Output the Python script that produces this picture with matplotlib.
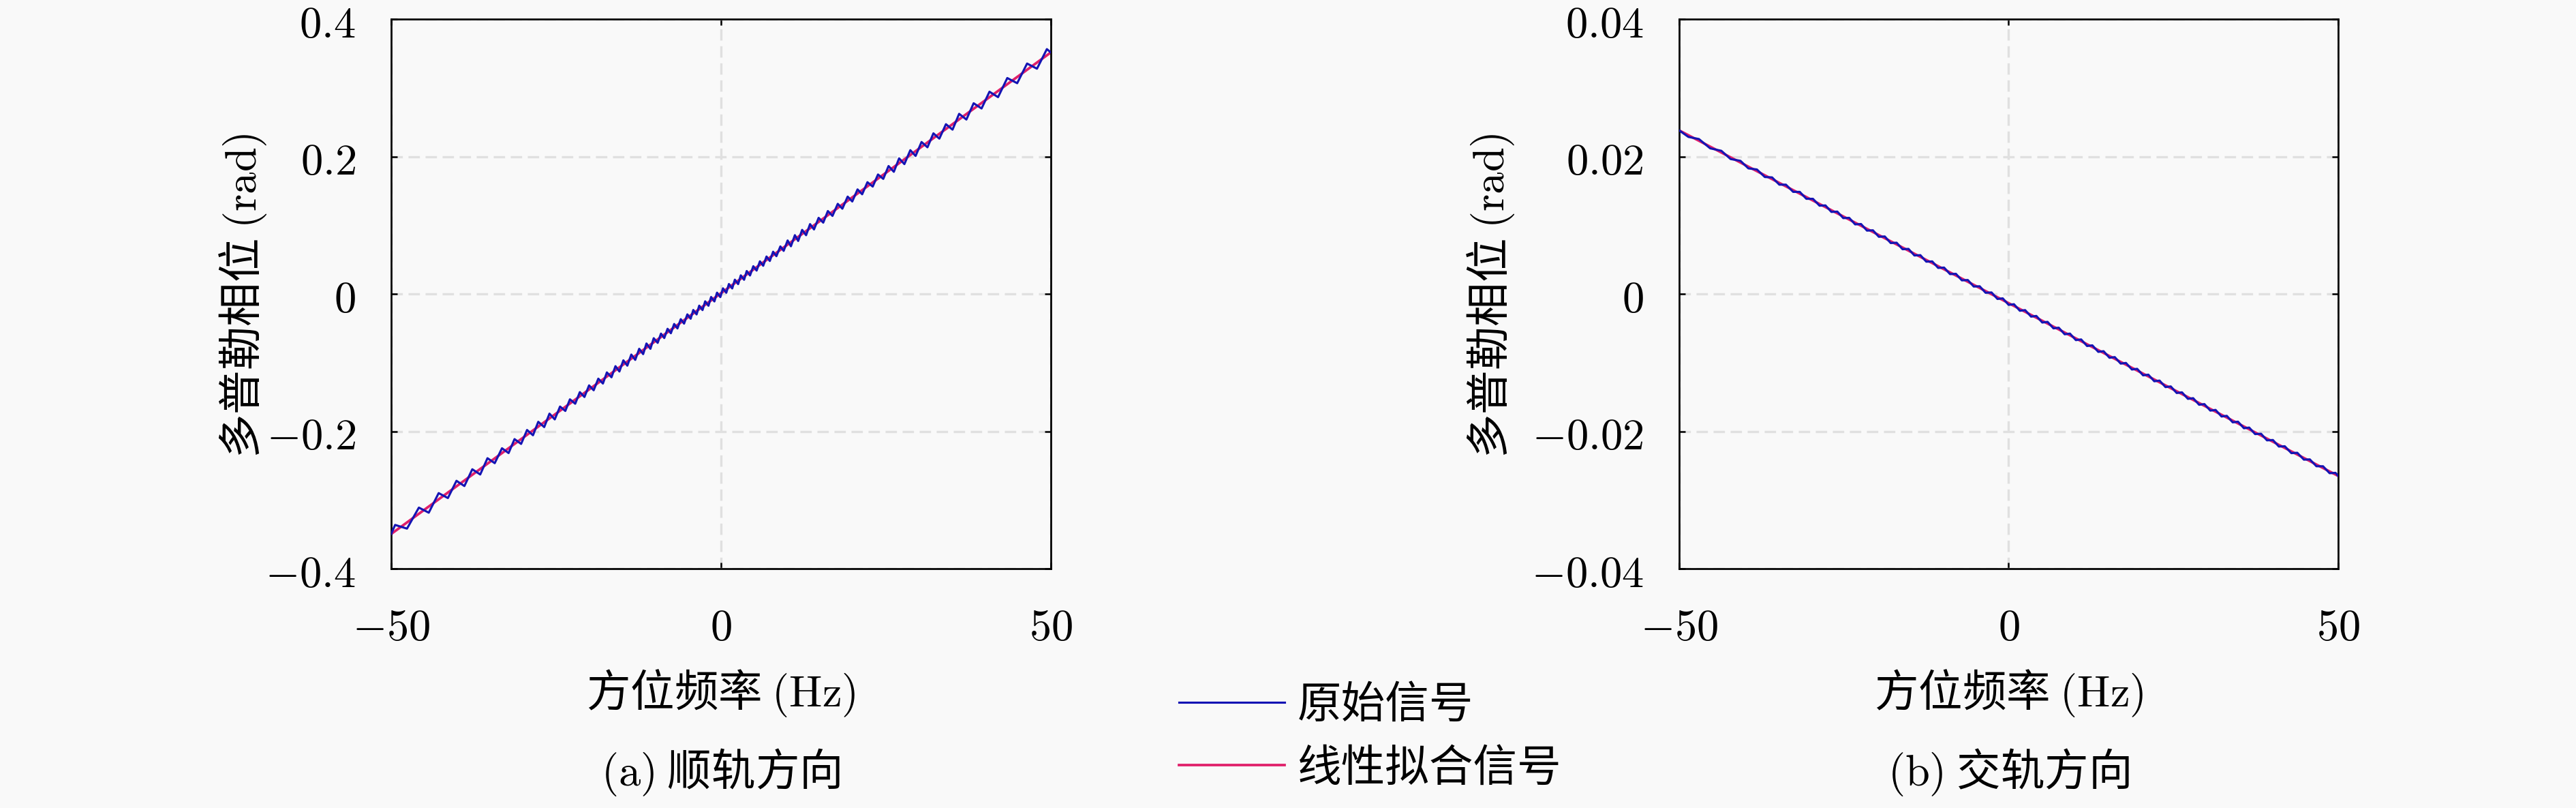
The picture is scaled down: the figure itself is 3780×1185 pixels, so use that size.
import matplotlib
matplotlib.use("Agg")
import matplotlib.pyplot as plt
from matplotlib.lines import Line2D

plt.rcParams['font.family'] = ['Noto Sans CJK SC', 'DejaVu Sans']
plt.rcParams['mathtext.fontset'] = 'cm'

# ---- data ----
# (a) along-track: original signal (peaks / troughs of the ripple)
freq_a = [-50.0, -49.4, -47.6, -45.8, -44.3, -42.8, -41.4, -40.1, -38.9, -37.7,
          -36.5, -35.4, -34.3, -33.2, -32.2, -31.3, -30.3, -29.4, -28.5, -27.7,
          -26.8, -26.0, -25.2, -24.4, -23.6, -22.9, -22.1, -21.4, -20.7, -20.0,
          -19.3, -18.6, -17.9, -17.3, -16.6, -16.0, -15.4, -14.8, -14.2, -13.6,
          -13.0, -12.4, -11.8, -11.3, -10.7, -10.2, -9.6, -9.1, -8.6, -8.1,
          -7.6, -7.1, -6.6, -6.1, -5.6, -5.1, -4.6, -4.2, -3.7, -3.3,
          -2.8, -2.4, -1.9, -1.5, -1.0, -0.6, -0.1, 0.3, 0.8, 1.2,
          1.7, 2.1, 2.6, 3.0, 3.5, 3.9, 4.4, 4.9, 5.4, 5.9,
          6.4, 6.9, 7.4, 7.9, 8.4, 9.0, 9.5, 10.1, 10.6, 11.2,
          11.7, 12.3, 12.9, 13.5, 14.1, 14.8, 15.5, 16.2, 16.9, 17.7,
          18.4, 19.2, 19.9, 20.7, 21.4, 22.2, 23.0, 23.8, 24.6, 25.4,
          26.2, 27.0, 27.8, 28.7, 29.5, 30.4, 31.3, 32.2, 33.1, 34.1,
          35.1, 36.1, 37.2, 38.3, 39.5, 40.7, 42.0, 43.4, 44.9, 46.4,
          47.9, 49.4, 50.0]
phase_a = [-0.3495, -0.3363, -0.3417, -0.3111, -0.3185, -0.2900, -0.2972, -0.2721, -0.2797, -0.2553,
           -0.2629, -0.2392, -0.2464, -0.2247, -0.2317, -0.2114, -0.2184, -0.1981, -0.2058, -0.1862,
           -0.1939, -0.1743, -0.1827, -0.1640, -0.1704, -0.1535, -0.1599, -0.1430, -0.1501, -0.1332,
           -0.1403, -0.1234, -0.1305, -0.1143, -0.1214, -0.1052, -0.1130, -0.0967, -0.1045, -0.0883,
           -0.0961, -0.0799, -0.0877, -0.0722, -0.0800, -0.0645, -0.0713, -0.0578, -0.0643, -0.0508,
           -0.0573, -0.0438, -0.0503, -0.0368, -0.0433, -0.0298, -0.0362, -0.0234, -0.0299, -0.0171,
           -0.0236, -0.0108, -0.0173, -0.0045, -0.0110, 0.0018, -0.0047, 0.0081, 0.0016, 0.0144,
           0.0079, 0.0207, 0.0142, 0.0270, 0.0205, 0.0333, 0.0268, 0.0403, 0.0339, 0.0474,
           0.0409, 0.0544, 0.0479, 0.0614, 0.0549, 0.0691, 0.0626, 0.0778, 0.0693, 0.0855,
           0.0770, 0.0932, 0.0854, 0.1016, 0.0938, 0.1107, 0.1037, 0.1206, 0.1135, 0.1311,
           0.1240, 0.1416, 0.1345, 0.1521, 0.1450, 0.1626, 0.1562, 0.1738, 0.1674, 0.1861,
           0.1777, 0.1973, 0.1889, 0.2092, 0.2008, 0.2211, 0.2134, 0.2337, 0.2260, 0.2470,
           0.2391, 0.2621, 0.2538, 0.2775, 0.2699, 0.2943, 0.2864, 0.3142, 0.3067, 0.3353,
           0.3278, 0.3563, 0.3515]
fit_freq_a = [-50.0, 50.0]
fit_phase_a = [-0.3495, 0.3515]

# (b) cross-track: original signal
freq_b = [-50.0, -48.6, -47.0, -45.3, -43.6, -42.2, -40.7, -39.5, -38.2, -37.0,
          -35.9, -34.8, -33.8, -32.7, -31.7, -30.7, -29.7, -28.7, -27.8, -26.9,
          -26.0, -25.1, -24.2, -23.3, -22.4, -21.5, -20.6, -19.7, -18.8, -17.9,
          -17.0, -16.1, -15.2, -14.3, -13.4, -12.5, -11.6, -10.7, -9.8, -8.9,
          -8.0, -7.1, -6.2, -5.3, -4.4, -3.5, -2.6, -1.7, -0.9, 0.0,
          0.8, 1.7, 2.5, 3.4, 4.2, 5.1, 5.9, 6.8, 7.6, 8.5,
          9.3, 10.2, 11.0, 11.9, 12.7, 13.6, 14.4, 15.3, 16.1, 17.0,
          17.8, 18.7, 19.5, 20.4, 21.2, 22.1, 22.9, 23.8, 24.6, 25.5,
          26.3, 27.2, 28.0, 28.9, 29.7, 30.6, 31.4, 32.3, 33.1, 34.0,
          34.8, 35.7, 36.5, 37.4, 38.3, 39.2, 40.1, 41.0, 41.9, 42.9,
          43.8, 44.8, 45.7, 46.7, 47.7, 48.7, 49.6, 50.0]
phase_b = [0.02380, 0.02285, 0.02254, 0.02119, 0.02083, 0.01963, 0.01937, 0.01827, 0.01811, 0.01701,
           0.01696, 0.01590, 0.01590, 0.01485, 0.01485, 0.01384, 0.01384, 0.01284, 0.01288, 0.01193,
           0.01198, 0.01103, 0.01107, 0.01012, 0.01017, 0.00921, 0.00926, 0.00831, 0.00836, 0.00740,
           0.00745, 0.00650, 0.00655, 0.00559, 0.00564, 0.00469, 0.00473, 0.00378, 0.00383, 0.00288,
           0.00292, 0.00197, 0.00202, 0.00107, 0.00111, 0.00016, 0.00021, -0.00074, -0.00065, -0.00160,
           -0.00150, -0.00246, -0.00236, -0.00331, -0.00321, -0.00417, -0.00407, -0.00502, -0.00492, -0.00588,
           -0.00578, -0.00673, -0.00663, -0.00759, -0.00749, -0.00844, -0.00834, -0.00930, -0.00920, -0.01015,
           -0.01005, -0.01101, -0.01091, -0.01186, -0.01176, -0.01272, -0.01262, -0.01357, -0.01347, -0.01443,
           -0.01433, -0.01528, -0.01518, -0.01614, -0.01604, -0.01699, -0.01689, -0.01785, -0.01775, -0.01870,
           -0.01860, -0.01956, -0.01946, -0.02041, -0.02036, -0.02132, -0.02127, -0.02222, -0.02218, -0.02318,
           -0.02313, -0.02413, -0.02409, -0.02509, -0.02509, -0.02610, -0.02605, -0.02650]
fit_freq_b = [-50.0, 50.0]
fit_phase_b = [0.0238, -0.0265]

xticks = [-50, 0, 50]
xtick_labels = [r'$-50$', r'$0$', r'$50$']
yticks_a = [-0.4, -0.2, 0, 0.2, 0.4]
ytick_labels_a = [r'$-0.4$', r'$-0.2$', r'$0$', r'$0.2$', r'$0.4$']
yticks_b = [-0.04, -0.02, 0, 0.02, 0.04]
ytick_labels_b = [r'$-0.04$', r'$-0.02$', r'$0$', r'$0.02$', r'$0.04$']

legend_labels = ['原始信号', '线性拟合信号']
xlabel = '方位频率 $(\\mathrm{Hz})$'
ylabel = '多普勒相位 $(\\mathrm{rad})$'
captions = ['$(\\mathrm{a})$ 顺轨方向', '$(\\mathrm{b})$ 交轨方向']

# ---- styling ----
bg = '#f9f9f9'
c_orig = '#1414b4'
c_fit = '#e0206a'
fs = 15.5

fig = plt.figure(figsize=(12.6, 3.9533), dpi=300, facecolor=bg)
ax_a = fig.add_axes([0.15185, 0.29595, 0.25608, 0.67960])
ax_b = fig.add_axes([0.65185, 0.29595, 0.25582, 0.67960])

panels = [
    (ax_a, freq_a, phase_a, fit_freq_a, fit_phase_a, yticks_a, ytick_labels_a, (-0.4, 0.4)),
    (ax_b, freq_b, phase_b, fit_freq_b, fit_phase_b, yticks_b, ytick_labels_b, (-0.04, 0.04)),
]
for ax, fx, fy, gx, gy, yt, ytl, ylim in panels:
    ax.set_facecolor(bg)
    ax.plot(fx, fy, color=c_orig, lw=0.75, zorder=3)
    ax.plot(gx, gy, color=c_fit, lw=0.9, zorder=2)
    ax.set_xlim(-50, 50)
    ax.set_ylim(*ylim)
    ax.set_xticks(xticks)
    ax.set_xticklabels(xtick_labels)
    ax.set_yticks(yt)
    ax.set_yticklabels(ytl)
    ax.grid(True, color='#e0e0e0', lw=0.8, ls=(0, (5, 2.5)))
    ax.set_axisbelow(True)
    ax.tick_params(direction='in', length=2.2, width=0.6, top=True, right=True,
                   labelsize=fs, pad=12.5)
    for s in ax.spines.values():
        s.set_linewidth(0.65)

# axis labels and captions
fig.text(0.2799, 0.1425, xlabel, ha='center', va='center', fontsize=fs)
fig.text(0.7798, 0.1425, xlabel, ha='center', va='center', fontsize=fs)
fig.text(0.0944, 0.634, ylabel, ha='center', va='center', rotation=90, fontsize=fs)
fig.text(0.5788, 0.634, ylabel, ha='center', va='center', rotation=90, fontsize=fs)
fig.text(0.2799, 0.0447, captions[0], ha='center', va='center', fontsize=fs)
fig.text(0.7798, 0.0447, captions[1], ha='center', va='center', fontsize=fs)

handles = [Line2D([], [], color=c_orig, lw=0.75), Line2D([], [], color=c_fit, lw=0.9)]
fig.legend(handles, legend_labels, loc='center', bbox_to_anchor=(0.532, 0.0885),
           frameon=False, fontsize=fs, handlelength=2.4, handletextpad=0.3,
           labelspacing=0.4, borderpad=0.0)

fig.savefig('out.png', dpi=300, facecolor=bg)
